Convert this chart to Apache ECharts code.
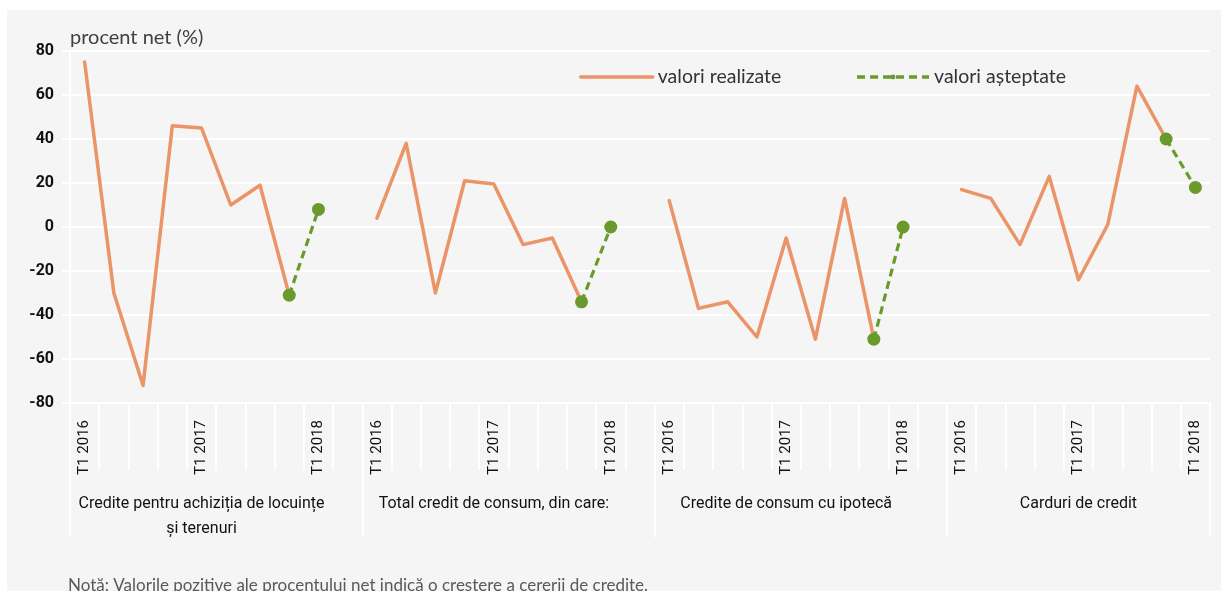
<!DOCTYPE html>
<html>
<head>
<meta charset="utf-8">
<script src="https://cdn.jsdelivr.net/npm/echarts@6/dist/echarts.min.js"></script>
<style>
  html, body { margin: 0; padding: 0; background: #fff; }
  #chart { position: absolute; left: 7px; top: 10px; width: 1214px; height: 581px; }
</style>
</head>
<body>
<div id="chart"></div>
<script>
// ===== 数据 =====
const groups = [
  'Credite pentru achiziția de locuințe\nși terenuri',
  'Total credit de consum, din care:',
  'Credite de consum cu ipotecă',
  'Carduri de credit'
]
const quarters = ['T1 2016', 'T2 2016', 'T3 2016', 'T4 2016', 'T1 2017', 'T2 2017', 'T3 2017', 'T4 2017', 'T1 2018']
const shownQuarters = ['T1 2016', 'T1 2017', 'T1 2018']

// valori realizate: T1 2016 .. T4 2017
const realizate1 = [75, -30, -72, 46, 45, 10, 19, -31]
const realizate2 = [4, 38, -30, 21, 19.5, -8, -5, -34]
const realizate3 = [12, -37, -34, -50, -5, -51, 13, -51]
const realizate4 = [17, 13, -8, 23, -24, 1, 64, 40]
// valori așteptate: T4 2017, T1 2018
const asteptate1 = [-31, 8]
const asteptate2 = [-34, 0]
const asteptate3 = [-51, 0]
const asteptate4 = [40, 18]

const yTicks = [-80, -60, -40, -20, 0, 20, 40, 60, 80]

const NARROW = 'Roboto, "Liberation Sans", sans-serif'
const TEXT = 'Lato, "Noto Sans", sans-serif'
const ORANGE = '#EA9467'
const GREEN = '#6A9A2B'

// ===== 构建类目轴 =====
const realizate = [realizate1, realizate2, realizate3, realizate4]
const asteptate = [asteptate1, asteptate2, asteptate3, asteptate4]
const categories = []
const realData = []
const expData = []
const groupStart = []
groups.forEach((g, gi) => {
  groupStart.push(categories.length)
  quarters.forEach((q, qi) => {
    categories.push(q)
    realData.push(qi < realizate[gi].length ? realizate[gi][qi] : null)
    expData.push(qi >= 7 ? asteptate[gi][qi - 7] : null)
  })
  // 组之间留一个空类目
  if (gi < groups.length - 1) {
    categories.push('')
    realData.push(null)
    expData.push(null)
  }
})
const total = categories.length
const groupEdges = groupStart.concat([total])
const groupCenters = groups.map((g, i) => (groupEdges[i] + (i < groups.length - 1 ? groupEdges[i + 1] - 1 : total)) / 2)

const chart = echarts.init(document.getElementById('chart'))
chart.setOption({
  backgroundColor: '#f5f5f5',
  animation: false,
  title: {
    text: 'Notă: Valorile pozitive ale procentului net indică o creștere a cererii de credite.',
    left: 61,
    top: 567,
    padding: 0,
    textStyle: { fontFamily: TEXT, fontSize: 17, fontWeight: 'normal', color: '#595959' }
  },
  legend: {
    left: 567,
    top: 52,
    itemWidth: 72,
    itemHeight: 6,
    itemGap: 74,
    lineStyle: { width: 3.5 },
    textStyle: { fontFamily: TEXT, fontSize: 19.5, color: '#333' },
    data: [
      { name: 'valori realizate', itemStyle: { opacity: 0 } },
      { name: 'valori așteptate' }
    ]
  },
  grid: { left: 63, right: 11, top: 41, bottom: 188 },
  xAxis: [
    {
      type: 'category',
      data: categories,
      boundaryGap: true,
      axisLine: { onZero: false, lineStyle: { color: '#fff', width: 2 } },
      axisTick: { show: true, interval: 0, length: 67, lineStyle: { color: '#fff', width: 2 } },
      axisLabel: {
        interval: 0,
        rotate: 90,
        margin: 17,
        fontFamily: NARROW,
        fontSize: 15,
        color: '#111',
        formatter: (v) => shownQuarters.includes(v) ? v : ''
      },
      splitLine: { show: false }
    },
    {
      type: 'value',
      position: 'bottom',
      min: 0,
      max: total,
      axisLine: { show: false, onZero: false },
      axisTick: {
        show: true,
        length: 134,
        customValues: groupEdges,
        lineStyle: { color: '#fff', width: 2 }
      },
      axisLabel: {
        customValues: groupCenters,
        formatter: (v) => groups[groupCenters.indexOf(v)] || '',
        margin: 88,
        verticalAlign: 'top',
        lineHeight: 25,
        fontFamily: NARROW,
        fontSize: 16,
        color: '#111'
      },
      splitLine: { show: false }
    }
  ],
  yAxis: {
    type: 'value',
    min: yTicks[0],
    max: yTicks[yTicks.length - 1],
    interval: 20,
    name: 'procent net (%)',
    nameLocation: 'end',
    nameGap: 3,
    nameTextStyle: { fontFamily: TEXT, fontSize: 20, color: '#404040', align: 'left' },
    axisLine: { show: true, lineStyle: { color: '#fff', width: 2 } },
    axisTick: { show: true, length: 8, lineStyle: { color: '#fff', width: 2 } },
    axisLabel: { margin: 16, fontFamily: NARROW, fontSize: 16, fontWeight: 'bold', color: '#111' },
    splitLine: { lineStyle: { color: '#fff', width: 2 } }
  },
  series: [
    {
      name: 'valori realizate',
      type: 'line',
      data: realData,
      connectNulls: false,
      showSymbol: false,
      symbol: 'none',
      lineStyle: { color: ORANGE, width: 3.5, cap: 'round', join: 'round' },
      itemStyle: { color: ORANGE },
      z: 2
    },
    {
      name: 'valori așteptate',
      type: 'line',
      data: expData,
      connectNulls: false,
      symbol: 'circle',
      symbolSize: 13,
      lineStyle: { color: GREEN, width: 3.2, type: [8, 5] },
      itemStyle: { color: GREEN },
      z: 3
    }
  ]
})
</script>
</body>
</html>
